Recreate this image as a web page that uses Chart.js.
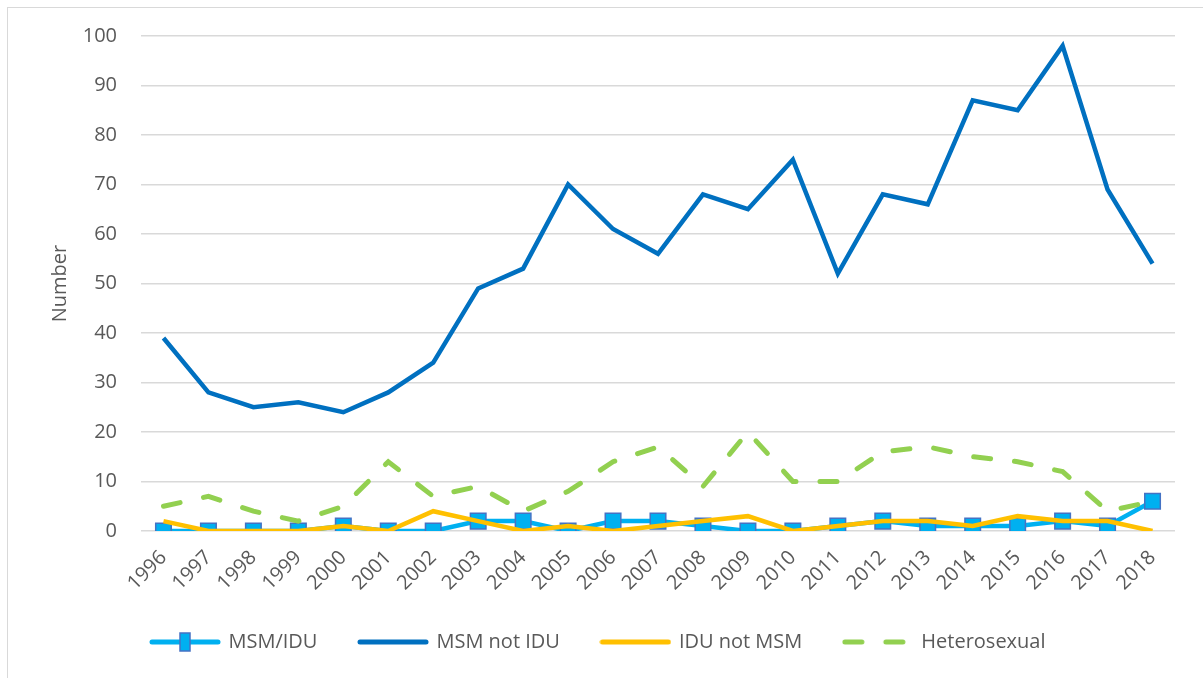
<!DOCTYPE html>
<html>
<head>
<meta charset="utf-8">
<title>Number by exposure category, 1996-2018</title>
<script src="https://cdn.jsdelivr.net/npm/chart.js@4/dist/chart.umd.min.js"></script>
<style>
  html, body { margin: 0; padding: 0; background: #fff; overflow: hidden; }
  #frame {
    position: absolute; left: 7px; top: 7px;
    width: 1200px; height: 680px;
    border: 1px solid #d9d9d9; box-sizing: border-box;
  }
  #chart { position: absolute; left: 0; top: 0; }
</style>
</head>
<body>
<div id="frame">
  <canvas id="chart" width="1195" height="670"></canvas>
</div>
<script>
'use strict';

// Data
const years = ['1996', '1997', '1998', '1999', '2000', '2001', '2002', '2003', '2004', '2005', '2006', '2007',
               '2008', '2009', '2010', '2011', '2012', '2013', '2014', '2015', '2016', '2017', '2018'];
const msmIdu       = [0, 0, 0, 0, 1, 0, 0, 2, 2, 0, 2, 2, 1, 0, 0, 1, 2, 1, 1, 1, 2, 1, 6];
const msmNotIdu    = [39, 28, 25, 26, 24, 28, 34, 49, 53, 70, 61, 56, 68, 65, 75, 52, 68, 66, 87, 85, 98, 69, 54];
const iduNotMsm    = [2, 0, 0, 0, 1, 0, 4, 2, 0, 1, 0, 1, 2, 3, 0, 1, 2, 2, 1, 3, 2, 2, 0];
const heterosexual = [5, 7, 4, 2, 5, 14, 7, 9, 4, 8, 14, 17, 9, 20, 10, 10, 16, 17, 15, 14, 12, 4, 6];
const yTicks = [0, 10, 20, 30, 40, 50, 60, 70, 80, 90, 100];

const textColor = '#595959';
const gridColor = '#d9d9d9';
const baseFont = { family: '"Open Sans", "DejaVu Sans", sans-serif', size: 20 };

/**
 * Small canvas used as the legend sample (line, optional dash, optional marker).
 */
function legendSample(color, opts = {}) {
    const c = document.createElement('canvas');
    c.width = 72;
    c.height = 22;
    const g = c.getContext('2d');
    g.strokeStyle = color;
    g.lineWidth = 5;
    g.lineCap = 'round';
    if (opts.dash) {
        g.setLineDash(opts.dash);
    }
    g.beginPath();
    g.moveTo(3, 11);
    g.lineTo(69, 11);
    g.stroke();
    if (opts.marker) {
        g.setLineDash([]);
        g.fillStyle = '#00b0f0';
        g.strokeStyle = '#4472c4';
        g.lineWidth = 1.5;
        g.fillRect(31, 2, 10, 18);
        g.strokeRect(31, 2, 10, 18);
    }
    return c;
}

// Shift the legend so it sits where it does in the reference
const legendShift = {
    id: 'legendShift',
    afterLayout(chart) {
        chart.legend.left += 7;
        chart.legend.right += 7;
    }
};

const ctx = document.getElementById('chart');

new Chart(ctx, {
    type: 'line',
    data: {
        labels: years,
        datasets: [
            {
                label: 'MSM/IDU',
                data: msmIdu,
                borderColor: '#00b0f0',
                backgroundColor: '#00b0f0',
                borderWidth: 4.5,
                pointStyle: 'rect',
                pointRadius: 11,
                pointBackgroundColor: '#00b0f0',
                pointBorderColor: '#4472c4',
                pointBorderWidth: 1.5,
                tension: 0,
                order: 4,
                sample: legendSample('#00b0f0', { marker: true })
            },
            {
                label: 'MSM not IDU',
                data: msmNotIdu,
                borderColor: '#0070c0',
                backgroundColor: '#0070c0',
                borderWidth: 4.5,
                pointRadius: 0,
                tension: 0,
                order: 3,
                sample: legendSample('#0070c0')
            },
            {
                label: 'IDU not MSM',
                data: iduNotMsm,
                borderColor: '#ffc000',
                backgroundColor: '#ffc000',
                borderWidth: 4.5,
                pointRadius: 0,
                tension: 0,
                order: 2,
                sample: legendSample('#ffc000')
            },
            {
                label: 'Heterosexual',
                data: heterosexual,
                borderColor: '#92d050',
                backgroundColor: '#92d050',
                borderWidth: 5,
                borderDash: [17, 24],
                borderCapStyle: 'round',
                pointRadius: 0,
                tension: 0,
                order: 1,
                sample: legendSample('#92d050', { dash: [17, 24] })
            }
        ]
    },
    options: {
        responsive: false,
        animation: false,
        layout: {
            padding: { top: 28, right: 28, bottom: 16, left: 0 }
        },
        plugins: {
            title: { display: false },
            tooltip: { enabled: false },
            legend: {
                position: 'bottom',
                labels: {
                    font: baseFont,
                    color: textColor,
                    padding: 42,
                    usePointStyle: true,
                    pointStyleWidth: 67,
                    generateLabels(chart) {
                        return chart.data.datasets.map((ds, i) => ({
                            text: ds.label,
                            pointStyle: ds.sample,
                            fontColor: textColor,
                            hidden: false,
                            datasetIndex: i,
                            lineWidth: 0
                        }));
                    }
                }
            }
        },
        scales: {
            x: {
                offset: true,
                grid: { display: false, drawTicks: false },
                border: { display: false },
                ticks: {
                    color: textColor,
                    font: baseFont,
                    minRotation: 45,
                    maxRotation: 45,
                    padding: 15,
                    autoSkip: false
                },
                afterFit(scale) {
                    scale.height = 59;
                }
            },
            y: {
                min: 0,
                max: 100,
                grid: {
                    color: gridColor,
                    lineWidth: 1.5,
                    drawTicks: true,
                    tickLength: 24,
                    tickColor: 'rgba(0,0,0,0)'
                },
                border: { display: false },
                afterBuildTicks(scale) {
                    scale.ticks = yTicks.map(v => ({ value: v }));
                },
                ticks: {
                    color: textColor,
                    font: baseFont,
                    padding: 0
                },
                title: {
                    display: true,
                    text: 'Number',
                    color: textColor,
                    font: baseFont,
                    padding: { top: 40, bottom: 0 }
                },
                afterFit(scale) {
                    scale.width = 133;
                }
            }
        }
    },
    plugins: [legendShift]
});
</script>
</body>
</html>
